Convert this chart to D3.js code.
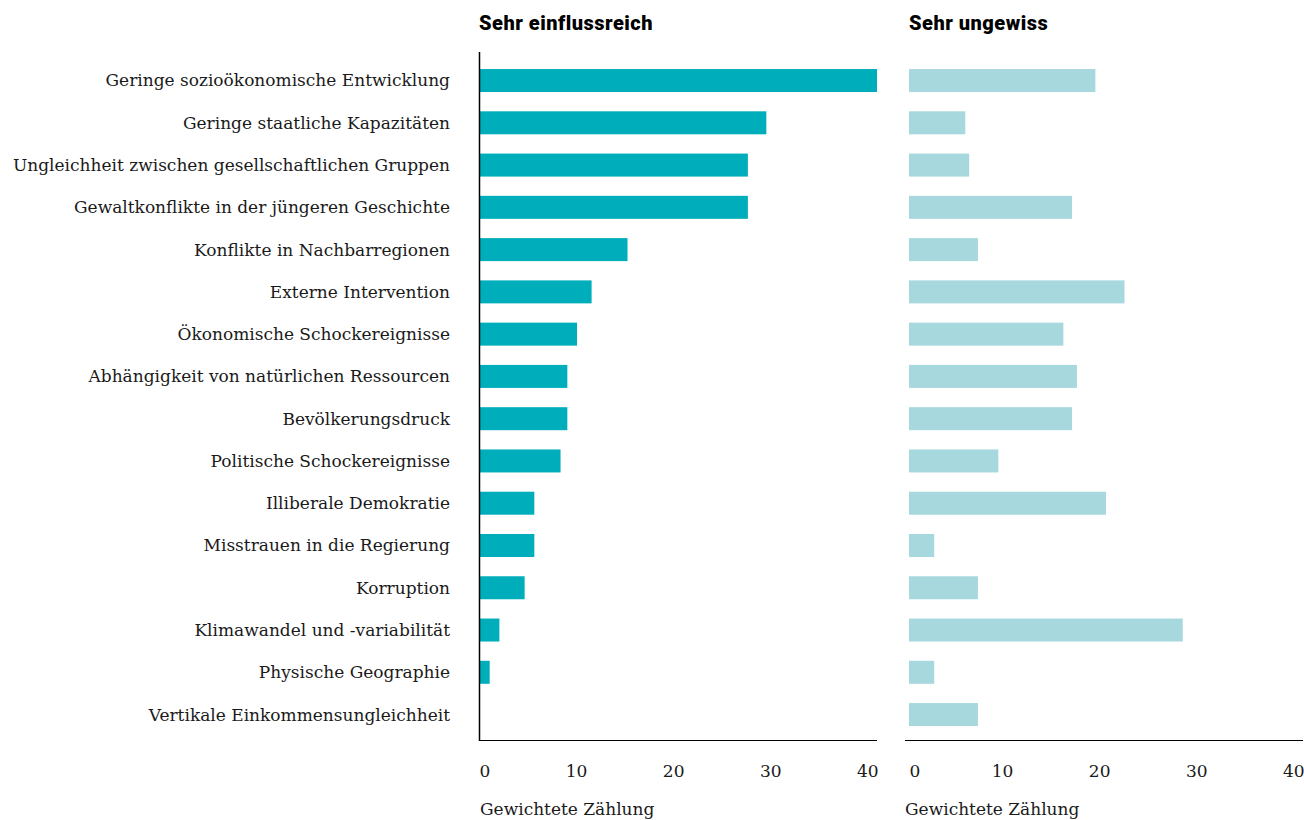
<!DOCTYPE html>
<html><head><meta charset="utf-8">
<script src="https://cdn.jsdelivr.net/npm/d3@7/dist/d3.min.js"></script>
<style>
html,body{margin:0;padding:0;background:#fff;}
svg{display:block;}
</style></head>
<body>
<svg id="chart" width="1304" height="820"></svg>
<script>
const categories = [
  "Geringe sozioökonomische Entwicklung",
  "Geringe staatliche Kapazitäten",
  "Ungleichheit zwischen gesellschaftlichen Gruppen",
  "Gewaltkonflikte in der jüngeren Geschichte",
  "Konflikte in Nachbarregionen",
  "Externe Intervention",
  "Ökonomische Schockereignisse",
  "Abhängigkeit von natürlichen Ressourcen",
  "Bevölkerungsdruck",
  "Politische Schockereignisse",
  "Illiberale Demokratie",
  "Misstrauen in die Regierung",
  "Korruption",
  "Klimawandel und -variabilität",
  "Physische Geographie",
  "Vertikale Einkommensungleichheit"
];
const sehrEinflussreich = [41.0, 29.6, 27.7, 27.7, 15.3, 11.6, 10.1, 9.1, 9.1, 8.4, 5.7, 5.7, 4.7, 2.1, 1.1, 0];
const sehrUngewiss     = [19.2, 5.8, 6.2, 16.8, 7.1, 22.2, 15.9, 17.3, 16.8, 9.2, 20.3, 2.6, 7.1, 28.2, 2.6, 7.1];
const panelTitles = ["Sehr einflussreich", "Sehr ungewiss"];
const tickValues = [0, 10, 20, 30, 40];
const axisTitle = "Gewichtete Zählung";

const svg = d3.select("#chart");
const serif = "'DejaVu Serif', serif";
const heavy = "Roboto, 'Noto Sans', sans-serif";
const textColor = "#1a1a1a";
const fs = 17;

const y = d3.scaleBand()
  .domain(categories)
  .range([59.4, 735.7])
  .paddingInner(0.456)
  .paddingOuter(0.228);

const axisY = 740;
const panelWidth = 398;
const xMax = d3.max(sehrEinflussreich);

const panels = [
  {x0: 479, values: sehrEinflussreich, color: "#00aebb", title: panelTitles[0], barOffset: 0, titleOffset: 0, vline: true},
  {x0: 905, values: sehrUngewiss, color: "#a6d8de", title: panelTitles[1], barOffset: 4, titleOffset: 4, vline: false}
];

// category labels
svg.append("g").selectAll("text")
  .data(categories)
  .join("text")
  .attr("x", 450)
  .attr("y", d => y(d) + y.bandwidth() / 2)
  .attr("dy", "0.35em")
  .attr("text-anchor", "end")
  .attr("font-family", serif)
  .attr("font-size", fs)
  .attr("fill", textColor)
  .text(d => d);

panels.forEach(p => {
  const x = d3.scaleLinear().domain([0, xMax]).range([p.x0, p.x0 + panelWidth]);
  const g = svg.append("g");

  g.append("text")
    .attr("x", p.x0 + p.titleOffset)
    .attr("y", 30)
    .attr("font-family", heavy)
    .attr("font-weight", 900)
    .attr("font-size", 20)
    .attr("letter-spacing", 0.5)
    .attr("fill", "#000")
    .text(p.title);

  g.append("g").selectAll("rect")
    .data(categories.map((c, i) => ({c, v: p.values[i]})))
    .join("rect")
    .attr("x", x(0) + p.barOffset)
    .attr("y", d => y(d.c))
    .attr("width", d => x(d.v) - x(0))
    .attr("height", y.bandwidth())
    .attr("fill", p.color);

  g.append("line")
    .attr("x1", p.x0).attr("x2", p.x0 + panelWidth)
    .attr("y1", axisY + 0.5).attr("y2", axisY + 0.5)
    .attr("stroke", "#000").attr("stroke-width", 1.2);

  if (p.vline) {
    g.append("line")
      .attr("x1", p.x0 + 0.5).attr("x2", p.x0 + 0.5)
      .attr("y1", 52).attr("y2", axisY + 1)
      .attr("stroke", "#000").attr("stroke-width", 1.5);
  }

  const ax = g.append("g")
    .attr("transform", `translate(0,${axisY})`)
    .call(d3.axisBottom(x).tickValues(tickValues).tickSize(0).tickPadding(25).tickFormat(d3.format("d")));
  ax.select(".domain").remove();
  ax.selectAll("text")
    .attr("font-family", serif)
    .attr("font-size", fs)
    .attr("fill", textColor);
  ax.selectAll(".tick").filter(d => d === 0).select("text")
    .attr("text-anchor", "start")
    .attr("x", p.barOffset);

  g.append("text")
    .attr("x", p.x0 + (p.vline ? 1 : 0))
    .attr("y", 815)
    .attr("font-family", serif)
    .attr("font-size", fs)
    .attr("fill", textColor)
    .text(axisTitle);
});
</script>
</body></html>
